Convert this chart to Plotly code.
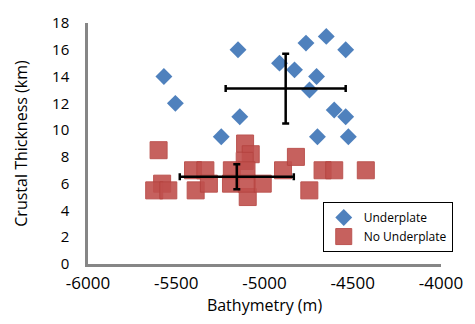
import plotly.graph_objects as go

# Sites with an underplated layer: bathymetry (m) and crustal thickness (km)
underplate_depth = [-5570, -5505, -5150, -5140, -5245, -4915, -4830, -4765,
                    -4650, -4540, -4705, -4745, -4605, -4540, -4700, -4525]
underplate_thick = [14, 12, 16, 11, 9.5, 15, 14.5, 16.5,
                    17, 16, 14, 13, 11.5, 11, 9.5, 9.5]

# Sites without underplating
no_underplate_depth = [-5600, -5580, -5625, -5545, -5405, -5335, -5390, -5315,
                       -5185, -5190, -5110, -5078, -5112, -5102, -5095, -5100,
                       -5010, -4895, -4822, -4746, -4671, -4605, -4426]
no_underplate_thick = [8.5, 6, 5.5, 5.5, 7, 7, 5.5, 6,
                       7, 6, 9, 8.2, 7.7, 7, 5, 6,
                       6, 7, 8, 5.5, 7, 7, 7]

# Group means with their spread (x: bathymetry, y: thickness)
mean_depth = [-4880, -5157]
mean_thick = [13.1, 6.52]
spread_depth = [340, 323]
spread_thick = [2.6, 0.93]

# Axis ticks (hyphen-minus labels)
x_ticks = [-6000, -5500, -5000, -4500, -4000]
x_tick_text = ["-6000", "-5500", "-5000", "-4500", "-4000"]

blue = "#4F81BD"
red = "#C0504D"

fig = go.Figure()

fig.add_trace(go.Scatter(
    x=underplate_depth, y=underplate_thick, mode="markers", name="Underplate",
    marker=dict(symbol="diamond", size=13, color=blue, line=dict(width=0)),
))
fig.add_trace(go.Scatter(
    x=no_underplate_depth, y=no_underplate_thick, mode="markers", name="No Underplate",
    marker=dict(symbol="square", size=17, color=red, opacity=0.9,
                line=dict(width=1, color="#B5433F")),
))
fig.add_trace(go.Scatter(
    x=mean_depth, y=mean_thick, mode="markers", showlegend=False,
    marker=dict(size=1, color="rgba(0,0,0,0)"),
    error_x=dict(type="data", array=spread_depth, color="black", thickness=2.5, width=3.5),
    error_y=dict(type="data", array=spread_thick, color="black", thickness=2.5, width=3.5),
))

font_family = "Open Sans, DejaVu Sans, sans-serif"

fig.update_layout(
    width=475, height=324,
    margin=dict(l=88, r=33, t=15, b=60),
    paper_bgcolor="white", plot_bgcolor="white",
    font=dict(family=font_family, size=16, color="black"),
    showlegend=True,
    legend=dict(
        x=0.665, y=0.257, xanchor="left", yanchor="top",
        bordercolor="black", borderwidth=1, bgcolor="white",
        font=dict(size=12), itemsizing="trace", itemwidth=30,
        tracegroupgap=2,
    ),
)

fig.update_xaxes(
    range=[-6000, -4000], tickvals=x_ticks, ticktext=x_tick_text,
    showgrid=False, zeroline=False,
    showline=True, linecolor="#868686", linewidth=2.5,
    ticks="", tickfont=dict(size=17), ticklabelstandoff=2,
    title=dict(text="Bathymetry (m)", font=dict(size=16), standoff=4),
)
fig.update_yaxes(
    range=[0, 18], dtick=2, tick0=0,
    showgrid=False, zeroline=False,
    showline=True, linecolor="#868686", linewidth=2.5,
    ticks="", tickfont=dict(size=15), ticklabelstandoff=13,
    title=dict(text="Crustal Thickness (km)", font=dict(size=16), standoff=21),
)

fig.write_html("out.html")
